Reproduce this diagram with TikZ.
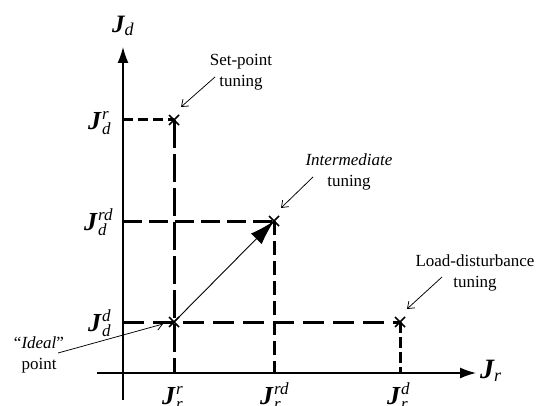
\documentclass[tikz,border=0pt]{standalone}
\usepackage{fontspec}
\setmainfont{Liberation Serif}
\usetikzlibrary{arrows.meta,calc}
\newcommand{\Jl}[3]{{\fontsize{#1}{#1}\selectfont\bfseries\itshape J}\kern1pt{\fontsize{17}{17}\selectfont\itshape\ooalign{\raisebox{10pt}{#3}\cr\raisebox{-5pt}{#2}\cr}}}
\newcommand{\Ja}[2]{{\fontsize{#1}{#1}\selectfont\bfseries\itshape J}\kern0pt{\fontsize{18}{18}\selectfont\itshape\raisebox{-3pt}{#2}}}
\tikzset{
  axis/.style={line width=1.4pt,-{Latex[length=16pt,width=11pt]}},
  guide/.style={line width=3pt},
  cross/.style={line width=1.7pt},
  note/.style={line width=0.75pt,-{Straight Barb[length=6pt,width=9pt]}},
  notetext/.style={align=center,font=\fontsize{17}{21}\selectfont,inner sep=0pt},
  lab/.style={anchor=base west,inner sep=0pt},
}
\begin{document}
\begin{tikzpicture}[x=1pt,y=-1pt]
\useasboundingbox (0,0) rectangle (543,406);
% axes
\coordinate (yb) at (123,400);
\coordinate (yt) at (123,47);
\coordinate (xl) at (97,373);
\coordinate (xt) at (476,373);
\draw[axis] (yb) -- (yt);
\draw[axis] (xl) -- (xt);
% points
\coordinate (sp) at (174,120);
\coordinate (im) at (274,221);
\coordinate (ld) at (400,322);
\coordinate (id) at (174,322);
\coordinate (ar) at (123,120);
\coordinate (ard) at (123,221);
\coordinate (ad) at (123,322);
\coordinate (br) at (174,373);
\coordinate (brd) at (274,373);
\coordinate (bd) at (400,373);
% guides
\draw[guide,dash pattern=on 10pt off 5pt] (ar) -- (sp);
\draw[guide,dash pattern=on 28pt off 6pt] (sp) -- (br);
\draw[guide,dash pattern=on 19pt off 7pt] (ard) -- (im);
\draw[guide,dash pattern=on 14pt off 6pt] (im) -- (brd);
\draw[guide,dash pattern=on 21pt off 9pt] (ad) -- (ld);
\draw[guide,dash pattern=on 11pt off 4pt] (ld) -- (bd);
% crosses
\foreach \p in {sp,im,ld,id}{
  \draw[cross] ($(\p)+(-5,-5)$) -- ($(\p)+(5,5)$);
  \draw[cross] ($(\p)+(-5,5)$) -- ($(\p)+(5,-5)$);
}
% main arrow
\draw[line width=0.9pt,-{Latex[length=25pt,width=15pt]}] (id) -- (im);
% axis labels
\node[lab] (jd) at (112,33) {\Ja{25}{d}};
\node[lab] (jr) at (480,378) {\Ja{28}{r}};
% tick labels
\node[lab] (jdr) at (88,130) {\Jl{26}{d}{r}};
\node[lab] (jdrd) at (84,230) {\Jl{26}{d}{rd}};
\node[lab] (jdd) at (88,331) {\Jl{26}{d}{d}};
\node[lab] (jrr) at (162,404) {\Jl{26}{r}{r}};
\node[lab] (jrrd) at (260,404) {\Jl{26}{r}{rd}};
\node[lab] (jrd) at (387,404) {\Jl{26}{r}{d}};
% notes
\node[notetext] (tsp) at (241,72) {Set-point\\tuning};
\node[notetext] (tim) at (349,172) {\textit{Intermediate}\\tuning};
\node[notetext] (tld) at (475,273) {Load-disturbance\\tuning};
\node[notetext] (tid) at (39,355) {“\textit{Ideal}”\\point};
\coordinate (s1) at (215,77);  \coordinate (s2) at (181,107);
\coordinate (i1) at (313,177); \coordinate (i2) at (281,208);
\coordinate (l1) at (442,277); \coordinate (l2) at (407,309);
\coordinate (d1) at (58,353);  \coordinate (d2) at (163,324);
\draw[note] (s1) -- (s2);
\draw[note] (i1) -- (i2);
\draw[note] (l1) -- (l2);
\draw[note] (d1) -- (d2);
\end{tikzpicture}
\end{document}
